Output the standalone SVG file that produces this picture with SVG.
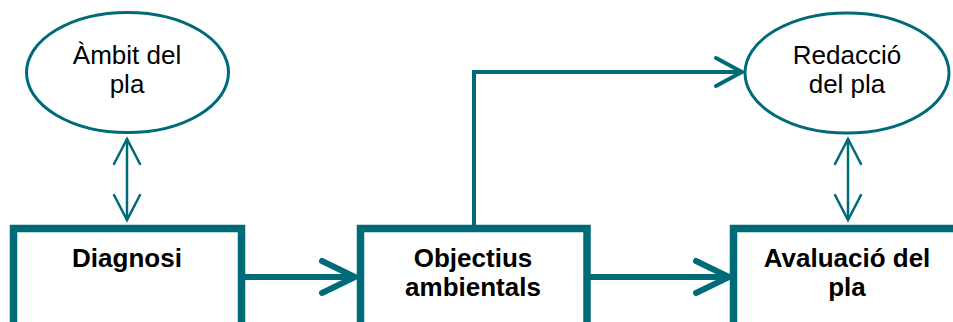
<svg xmlns="http://www.w3.org/2000/svg" width="953" height="322" viewBox="0 0 953 322">
<style>
.ell{fill:#fff;stroke:#006b78;stroke-width:3}
.box{fill:#fff;stroke:#006b78;stroke-width:7.5}
.t{font-family:"Liberation Sans",Arial,sans-serif;font-size:26px;fill:#000;text-anchor:middle}
.b{font-weight:bold}
.c{fill:none;stroke:#006b78;stroke-linecap:round;stroke-linejoin:miter}
.thick{stroke-width:6}
.mid{stroke-width:4}
.thin{stroke-width:2.5}
</style>
<rect width="953" height="322" fill="#fff"/>
<g id="connectors">
<line class="c thick" x1="245" y1="277" x2="353" y2="277"/>
<polyline class="c thick" points="322,261 355,277 322,293"/>
<line class="c thick" x1="590" y1="277" x2="727" y2="277"/>
<polyline class="c thick" points="696,261 729,277 696,293"/>
<polyline class="c mid" points="474,225 474,72 740,72" style="stroke-linecap:butt"/>
<polyline class="c mid" points="716,58 742,72 716,86"/>
<line class="c thin" x1="127" y1="140" x2="127" y2="219"/>
<polyline class="c thin" points="114,164 127,139 140,164"/>
<polyline class="c thin" points="114,195 127,220 140,195"/>
<line class="c thin" x1="848" y1="140" x2="848" y2="219"/>
<polyline class="c thin" points="835,164 848,139 861,164"/>
<polyline class="c thin" points="835,195 848,220 861,195"/>
</g>
<g id="ambit">
<ellipse class="ell" cx="127.5" cy="72.5" rx="101" ry="60"/>
<text class="t" x="127" y="64">Àmbit del</text>
<text class="t" x="127" y="93">pla</text>
</g>
<g id="redaccio">
<ellipse class="ell" cx="847" cy="73" rx="102" ry="60"/>
<text class="t" x="847" y="64">Redacció</text>
<text class="t" x="847" y="93">del pla</text>
</g>
<g id="diagnosi">
<rect class="box" x="13.5" y="228.5" width="228" height="120"/>
<text class="t b" x="127" y="267">Diagnosi</text>
</g>
<g id="objectius">
<rect class="box" x="360.5" y="228.5" width="226.5" height="120"/>
<text class="t b" x="473" y="267">Objectius</text>
<text class="t b" x="473" y="296">ambientals</text>
</g>
<g id="avaluacio">
<rect class="box" x="733.5" y="228.5" width="250" height="120"/>
<text class="t b" x="847" y="267">Avaluació del</text>
<text class="t b" x="847" y="296">pla</text>
</g>
</svg>
